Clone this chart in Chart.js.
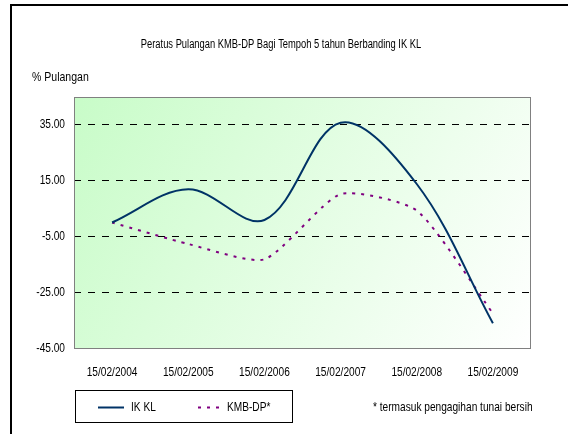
<!DOCTYPE html>
<html>
<head>
<meta charset="utf-8">
<script src="https://cdn.jsdelivr.net/npm/chart.js@4.4.1/dist/chart.umd.min.js"></script>
<style>
  html, body { margin: 0; padding: 0; background: #fff; }
  canvas { display: block; }
</style>
</head>
<body>
<canvas id="returnsChart" width="568" height="434"></canvas>
<script>
// data
const dates = ['15/02/2004', '15/02/2005', '15/02/2006', '15/02/2007', '15/02/2008', '15/02/2009'];
const ikklValues = [0, 11.9, 0.9, 35.8, 13.8, -36.1];
const kmbValues = [0, -7.7, -13.2, 10.2, 4.3, -32.6];
const yTicks = [-45, -25, -5, 15, 35];
const seriesNames = ['IK KL', 'KMB-DP*'];

const chartTitle = 'Peratus Pulangan KMB-DP Bagi Tempoh 5 tahun Berbanding IK KL';
const yTitle = '% Pulangan';
const footNote = '* termasuk pengagihan tunai bersih';

const FONT = "'Liberation Sans', Arial, sans-serif";
Chart.defaults.font.family = FONT;
Chart.defaults.font.size = 13;
Chart.defaults.color = '#000';

// the original uses a narrow face (Arial Narrow), which isn't installed here,
// so squeeze every piece of text horizontally around its anchor point
const canvas = document.getElementById('returnsChart');
const ctx2d = canvas.getContext('2d');
const NARROW = 0.78;
const rawFillText = ctx2d.fillText.bind(ctx2d);
ctx2d.fillText = function (text, x, y) {
    this.save();
    this.translate(x, y);
    this.scale(NARROW, 1);
    rawFillText(text, 0, 0);
    this.restore();
};

// paints the green plot background, frame, titles and the boxed legend
const decorPlugin = {
    id: 'decor',
    beforeDraw(chart) {
        const { ctx, chartArea: a } = chart;
        ctx.save();
        const grad = ctx.createLinearGradient(a.left, a.top, a.right, a.bottom);
        grad.addColorStop(0, '#c8fcc8');
        grad.addColorStop(1, '#ffffff');
        ctx.fillStyle = grad;
        ctx.fillRect(a.left, a.top, a.right - a.left, a.bottom - a.top);

        // outer frame (only left and top edges are visible)
        ctx.strokeStyle = '#000';
        ctx.lineWidth = 2;
        ctx.beginPath();
        ctx.moveTo(11, 434);
        ctx.lineTo(11, 5);
        ctx.lineTo(568, 5);
        ctx.stroke();
        ctx.restore();
    },
    beforeDatasetsDraw(chart) {
        const { ctx, chartArea: a } = chart;
        ctx.save();
        ctx.strokeStyle = '#808080';
        ctx.lineWidth = 1;
        ctx.strokeRect(Math.round(a.left) + 0.5, Math.round(a.top) + 0.5,
            Math.round(a.right - a.left) - 1, Math.round(a.bottom - a.top));
        ctx.restore();
    },
    afterDraw(chart) {
        const { ctx } = chart;
        ctx.save();
        ctx.fillStyle = '#000';
        ctx.textBaseline = 'middle';

        ctx.font = '12px ' + FONT;
        ctx.textAlign = 'center';
        ctx.fillText(chartTitle, 281, 45);

        ctx.font = '13.5px ' + FONT;
        ctx.textAlign = 'left';
        ctx.fillText(yTitle, 32, 77);

        ctx.font = '13px ' + FONT;
        ctx.fillText(footNote, 373, 407);

        // legend box
        ctx.strokeStyle = '#000';
        ctx.lineWidth = 1;
        ctx.strokeRect(75.5, 390.5, 217, 32);

        const slots = [{ x: 98, tx: 131 }, { x: 198, tx: 227 }];
        chart.data.datasets.forEach((ds, i) => {
            const s = slots[i];
            ctx.save();
            ctx.strokeStyle = ds.borderColor;
            ctx.lineWidth = ds.borderWidth;
            ctx.setLineDash(ds.borderDash || []);
            ctx.beginPath();
            ctx.moveTo(s.x, 407.5);
            ctx.lineTo(s.x + 26, 407.5);
            ctx.stroke();
            ctx.restore();
            ctx.fillText(ds.label, s.tx, 407);
        });
        ctx.restore();
    }
};

new Chart(canvas, {
    type: 'line',
    data: {
        labels: dates,
        datasets: [{
            label: seriesNames[0],
            data: ikklValues,
            borderColor: '#003366',
            borderWidth: 2,
            tension: 0.35,
            pointRadius: 0,
            fill: false
        }, {
            label: seriesNames[1],
            data: kmbValues,
            borderColor: '#800080',
            borderWidth: 2,
            borderDash: [3, 6],
            tension: 0.2,
            pointRadius: 0,
            fill: false
        }]
    },
    options: {
        responsive: false,
        animation: false,
        layout: { padding: { left: 0, right: 37, top: 97, bottom: 46 } },
        plugins: {
            legend: { display: false },
            title: { display: false },
            tooltip: { enabled: false }
        },
        scales: {
            x: {
                offset: true,
                grid: { display: false, drawTicks: false },
                border: { display: false },
                ticks: { padding: 17, maxRotation: 0, autoSkip: false, font: { size: 13 } },
                afterFit(axis) { axis.height = 40; }
            },
            y: {
                min: -45,
                max: 45,
                afterBuildTicks(axis) {
                    axis.ticks = yTicks.map(v => ({ value: v }));
                },
                grid: { color: '#000', lineWidth: 1, drawTicks: false },
                border: { display: false, dash: [7, 7] },
                ticks: {
                    padding: 9,
                    font: { size: 13 },
                    callback: v => Number(v).toFixed(2)
                },
                afterFit(axis) { axis.width = 74; }
            }
        }
    },
    plugins: [decorPlugin]
});
</script>
</body>
</html>
